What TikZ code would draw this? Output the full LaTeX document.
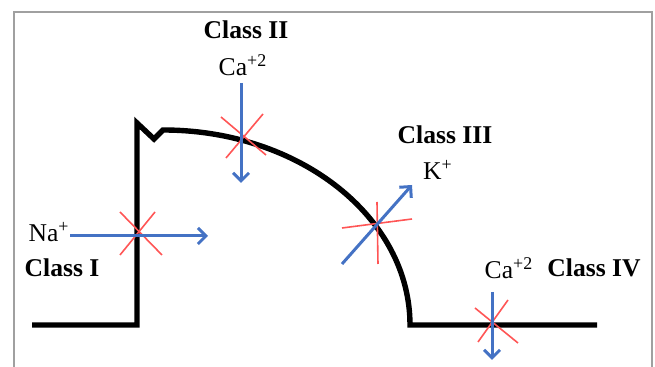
\documentclass[tikz,border=0pt]{standalone}
\usepackage{fontspec}
\setmainfont{Liberation Serif}
\usetikzlibrary{arrows.meta}
\definecolor{ionblue}{RGB}{68,114,196}
\definecolor{crossred}{RGB}{255,85,85}
\definecolor{framegray}{RGB}{160,160,160}
\tikzset{
  classlabel/.style={font=\bfseries\fontsize{12.8}{15}\selectfont, inner sep=0pt},
  ionlabel/.style={font=\fontsize{12.8}{15}\selectfont, inner sep=0pt},
  ion/.style={ionblue, line width=1.5pt, -{Straight Barb[length=4pt,width=8pt,line width=1.5pt]}},
  block/.style={crossred, line width=0.8pt},
  trace/.style={line width=2.7pt, line join=miter}
}
\begin{document}
\begin{tikzpicture}[x=0.5pt, y=-0.5pt]
    \useasboundingbox (0,0) rectangle (655,367);
    % Khung
    \draw[framegray, line width=0.8pt] (14,367) -- (14,12) -- (652,12) -- (652,367);

    % Dien the hoat dong
    \draw[trace] (32,325) -- (137,325) -- (137,123) -- (154,139) -- (163,130)
        arc[start angle=-90, end angle=0, x radius=247, y radius=195] -- (597,325);

    % Class I
    \node[classlabel] (cI) at (62,268) {Class I};
    \node[ionlabel, anchor=east] (na) at (70,232) {Na\textsuperscript{+}};
    \coordinate (naend) at (208,236);
    \draw[block] (120,212) -- (162,255);
    \draw[block] (155,212) -- (120,255);
    \draw[ion] (na.east |- naend) -- (naend);

    % Class II
    \node[classlabel] (cII) at (246,30) {Class II};
    \node[ionlabel] (caII) at (243,65) {Ca\textsuperscript{+2}};
    \coordinate (caIIstart) at (241,83);
    \coordinate (caIIend) at (241,183);
    \draw[block] (221,117) -- (266,155);
    \draw[block] (263,114) -- (226,158);
    \draw[ion] (caIIstart) -- (caIIend);

    % Class III
    \node[classlabel] (cIII) at (445,135) {Class III};
    \node[ionlabel] (k) at (438,170) {K\textsuperscript{+}};
    \coordinate (kstart) at (342,264);
    \coordinate (kend) at (412,185);
    \draw[block] (342,228) -- (412,219);
    \draw[block] (377,202) -- (378,264);
    \draw[ion] (kstart) -- (kend);

    % Class IV
    \node[ionlabel] (caIV) at (509,268) {Ca\textsuperscript{+2}};
    \node[classlabel] (cIV) at (594,268) {Class IV};
    \coordinate (caIVstart) at (492,292);
    \coordinate (caIVend) at (492,360);
    \draw[block] (475,308) -- (518,343);
    \draw[block] (508,300) -- (478,342);
    \draw[ion] (caIVstart) -- (caIVend);
\end{tikzpicture}
\end{document}
